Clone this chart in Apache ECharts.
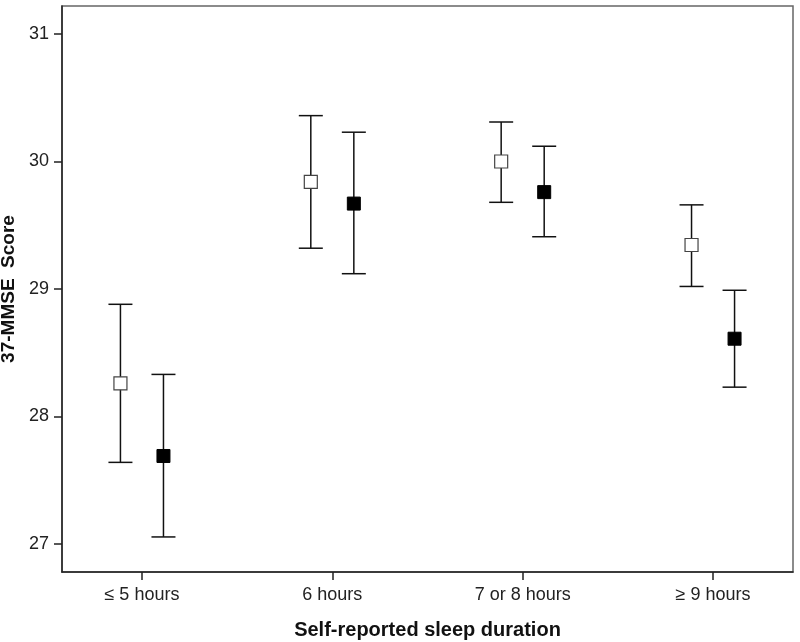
<!DOCTYPE html>
<html>
<head>
<meta charset="utf-8">
<script src="https://cdn.jsdelivr.net/npm/echarts@6/dist/echarts.min.js"></script>
<style>html,body{margin:0;padding:0;background:#fff}#c{width:800px;height:642px}</style>
</head>
<body>
<div id="c"></div>
<script>
const categories = ['\u2264 5 hours', '6 hours', '7 or 8 hours', '\u2265 9 hours'];
const yTicks = [27, 28, 29, 30, 31];
// open squares
const openMean = [28.26, 29.84, 30.00, 29.345];
const openLow  = [27.64, 29.32, 29.68, 29.02];
const openHigh = [28.88, 30.36, 30.31, 29.66];
// filled squares
const fillMean = [27.69, 29.67, 29.76, 28.61];
const fillLow  = [27.055, 29.12, 29.41, 28.23];
const fillHigh = [28.33, 30.23, 30.12, 28.99];

const OFFSET = 0.113;
const FONT = 'Liberation Sans, Arial, sans-serif';

function pts(mean, off) { return mean.map((v, i) => [i + off, v]); }
function bars(low, high, off) { return low.map((v, i) => [i + off, v, high[i]]); }

function renderBar(params, api) {
  const x = api.value(0);
  const lo = api.coord([x, api.value(1)]);
  const hi = api.coord([x, api.value(2)]);
  const cw = 12;
  const st = { stroke: '#111', lineWidth: 1.5 };
  return {
    type: 'group',
    children: [
      { type: 'line', shape: { x1: hi[0], y1: hi[1], x2: lo[0], y2: lo[1] }, style: st },
      { type: 'line', shape: { x1: hi[0] - cw, y1: hi[1], x2: hi[0] + cw, y2: hi[1] }, style: st },
      { type: 'line', shape: { x1: lo[0] - cw, y1: lo[1], x2: lo[0] + cw, y2: lo[1] }, style: st }
    ]
  };
}

const chart = echarts.init(document.getElementById('c'), null, { renderer: 'canvas' });
chart.setOption({
  animation: false,
  backgroundColor: '#fff',
  grid: { left: 62, right: 7, top: 6, bottom: 70, show: true, borderColor: '#666', borderWidth: 1.5, containLabel: false, outerBoundsMode: 'none' },
  xAxis: {
    type: 'value', min: -0.42, max: 3.42,
    splitLine: { show: false },
    axisLine: { show: true, onZero: false, lineStyle: { color: '#222', width: 1.5 } },
    axisTick: { show: true, customValues: [0, 1, 2, 3], length: 8, lineStyle: { color: '#222', width: 1.5 } },
    axisLabel: { customValues: [0, 1, 2, 3], formatter: v => categories[Math.round(v)], color: '#222', fontSize: 18, fontFamily: FONT, margin: 14 },
    name: 'Self-reported sleep duration', nameLocation: 'middle', nameGap: 48,
    nameTextStyle: { fontWeight: 'bold', fontSize: 20, color: '#111', fontFamily: FONT }
  },
  yAxis: {
    type: 'value', min: 26.78, max: 31.22,
    splitLine: { show: false },
    axisLine: { show: true, onZero: false, lineStyle: { color: '#222', width: 1.5 } },
    axisTick: { show: true, customValues: yTicks, length: 8, lineStyle: { color: '#222', width: 1.5 } },
    axisLabel: { customValues: yTicks, color: '#222', fontSize: 18, fontFamily: FONT, margin: 13 },
    name: '37-MMSE  Score', nameLocation: 'middle', nameGap: 40,
    nameTextStyle: { fontWeight: 'bold', fontSize: 19, color: '#111', fontFamily: FONT }
  },
  series: [
    { type: 'custom', renderItem: renderBar, data: bars(openLow, openHigh, -OFFSET), z: 1 },
    { type: 'custom', renderItem: renderBar, data: bars(fillLow, fillHigh, OFFSET), z: 1 },
    { type: 'scatter', data: pts(openMean, -OFFSET), symbol: 'rect', symbolSize: 13, z: 5,
      itemStyle: { color: '#fff', borderColor: '#444', borderWidth: 1.2, opacity: 1 } },
    { type: 'scatter', data: pts(fillMean, OFFSET), symbol: 'rect', symbolSize: 13, z: 5,
      itemStyle: { color: '#000', borderColor: '#000', borderWidth: 1, opacity: 1 } }
  ]
});
</script>
</body>
</html>
